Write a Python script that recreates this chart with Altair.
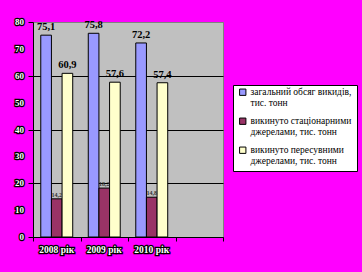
import altair as alt
import pandas as pd

years = ["2008 рік", "2009 рік", "2010 рік"]
x_domain = years + [""]
series = [
    "загальний обсяг викидів,\nтис. тонн",
    "викинуто стаціонарними\nджерелами, тис. тонн",
    "викинуто пересувними\nджерелами, тис. тонн",
]
colors = ["#9999FF", "#993366", "#FFFFCC"]
total = [75.1, 75.8, 72.2]
stationary = [14.2, 18.2, 14.8]
mobile = [60.9, 57.6, 57.4]
y_ticks = [0, 10, 20, 30, 40, 50, 60, 70, 80]

rows = []
for i, yr in enumerate(years):
    for s, vals in zip(series, [total, stationary, mobile]):
        v = vals[i]
        rows.append({"year": yr, "series": s, "value": v,
                     "label": f"{v:.1f}".replace(".", ",")})
df = pd.DataFrame(rows)
df_years = pd.DataFrame({"year": years})
df_ticks = pd.DataFrame({"v": y_ticks})

W, H = 190, 215
SERIF = "Liberation Serif, Times New Roman, serif"

x_enc = alt.X("year:N", scale=alt.Scale(domain=x_domain, paddingInner=0, paddingOuter=0),
              sort=x_domain,
              axis=alt.Axis(title=None, labels=False, domainColor="black", tickColor="black",
                            tickBand="extent", tickSize=4, domainWidth=1))
xoff = alt.XOffset("series:N", scale=alt.Scale(domain=series, paddingInner=0, paddingOuter=0.73),
                   sort=series)
y_scale = alt.Scale(domain=[0, 80])

bars = alt.Chart(df).mark_bar(stroke="black", strokeWidth=1).encode(
    x=x_enc,
    xOffset=xoff,
    y=alt.Y("value:Q", scale=y_scale,
            axis=alt.Axis(title=None, labels=False, values=y_ticks, domainColor="black",
                          tickColor="black", tickSize=5,
                          gridColor=alt.condition("datum.value == 80", alt.value("#808080"), alt.value("black")),
                          gridOpacity=1)),
    color=alt.Color("series:N", scale=alt.Scale(domain=series, range=colors), sort=series,
                    legend=alt.Legend(title=None, orient="none", legendX=200, legendY=63,
                                      symbolType="M-1,-1.8H1V0.2H-1Z", symbolSize=40,
                                      symbolStrokeColor="black", symbolStrokeWidth=1,
                                      labelFont=SERIF, labelFontSize=9.5, labelColor="black",
                                      labelBaseline="alphabetic",
                                      labelLimit=200, labelExpr="split(datum.label, '\\n')",
                                      fillColor="white", strokeColor="black", padding=5,
                                      rowPadding=7, labelOffset=3)),
)

big = alt.Chart(df[df.series != series[1]]).mark_text(
    font=SERIF, fontSize=10.5, fontWeight="bold", color="black", baseline="bottom", dy=-3
).encode(x=alt.X("year:N", sort=x_domain), xOffset=alt.XOffset("series:N", sort=series),
         y=alt.Y("value:Q"), text="label:N")

small = alt.Chart(df[df.series == series[1]]).mark_text(
    font=SERIF, fontSize=6, fontWeight="bold", color="#333333", baseline="bottom", dy=-1
).encode(x=alt.X("year:N", sort=x_domain), xOffset=alt.XOffset("series:N", sort=series),
         y=alt.Y("value:Q"), text="label:N")

ylab_bg = alt.Chart(df_ticks).mark_text(
    font=SERIF, fontSize=9, fontWeight="bold", align="right", baseline="middle",
    stroke="black", strokeWidth=2.5, fill="black"
).encode(x=alt.value(-9), y=alt.Y("v:Q"), text="v:N")
ylab_fg = alt.Chart(df_ticks).mark_text(
    font=SERIF, fontSize=9, fontWeight="bold", align="right", baseline="middle", fill="white"
).encode(x=alt.value(-9), y=alt.Y("v:Q"), text="v:N")

xlab_bg = alt.Chart(df_years).mark_text(
    font=SERIF, fontSize=9.5, fontWeight="bold", align="center", baseline="middle",
    stroke="black", strokeWidth=2.5, fill="black"
).encode(x=alt.X("year:N", sort=x_domain), y=alt.value(H + 13), text="year:N")
xlab_fg = alt.Chart(df_years).mark_text(
    font=SERIF, fontSize=9.5, fontWeight="bold", align="center", baseline="middle", fill="white"
).encode(x=alt.X("year:N", sort=x_domain), y=alt.value(H + 13), text="year:N")

chart = alt.layer(bars, big, small, ylab_bg, ylab_fg, xlab_bg, xlab_fg).properties(
    width=W, height=H,
    autosize=alt.AutoSizeParams(type="none"),
    padding={"left": 33, "top": 22, "right": 139, "bottom": 35},
    background="#FF00FF",
).configure_view(fill="#C0C0C0", stroke="#808080", strokeWidth=1
).configure_legend(labelFont=SERIF, labelFontSize=9.5)

chart.save("out.html", embed_options={"renderer": "svg", "actions": False})
